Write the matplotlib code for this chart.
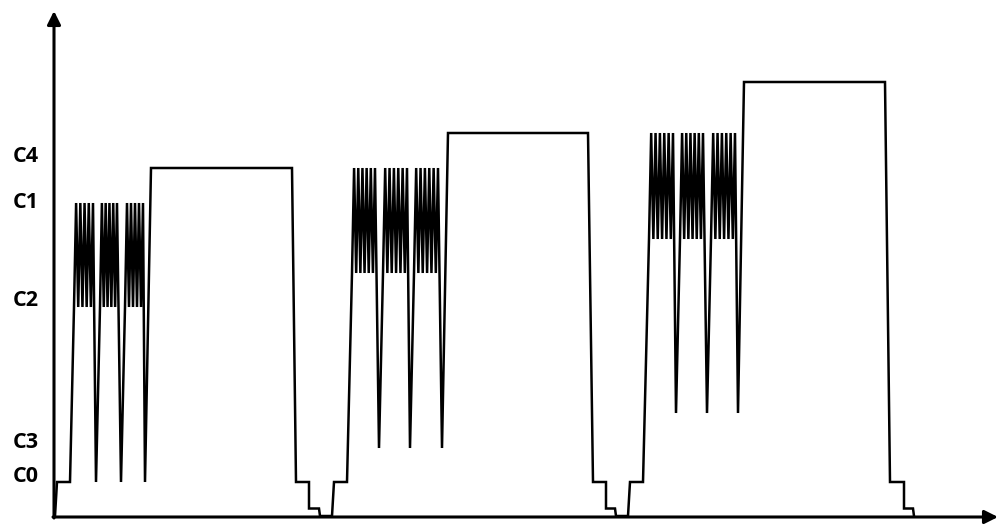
#schematic of three charge cycles: oscillation bursts followed by a plateau
import numpy as np
import matplotlib.pyplot as plt

# levels (height above x axis) for each cycle
base_level = 34.0
step_level = 7.5
osc_low = [209, 243, 277]
osc_high = [313, 348, 383]
dip_level = [34, 68, 103]
plateau_level = [348, 383, 434]

# time breakpoints for each cycle
cycle_start = [55, 332, 628]
rise_start = [70, 347, 643]
burst_start = [[74, 100, 125], [352, 383, 414], [649, 680, 711]]
burst_end = [[93, 117, 143], [375, 407, 438], [673, 703, 735]]
dip_time = [[96, 121, 145], [379, 410, 442], [676, 707, 738]]
plateau_start = [151, 448, 744]
plateau_end = [292, 588, 885]
fall_end = [296, 593, 890]
step_end = [309, 606, 904]
tail_end = [319, 615, 913]
teeth = [5, 6, 6]

# y axis labels
label_names = ['C4', 'C1', 'C2', 'C3', 'C0']
label_levels = [359, 313, 216, 74, 40]

xs, ys = [], []
for i in range(3):
    xs += [cycle_start[i], cycle_start[i] + 2, rise_start[i]]
    ys += [0, base_level, base_level]
    for b in range(3):
        n = teeth[i]
        tx = np.linspace(burst_start[i][b], burst_end[i][b], 2 * n)
        for k, x in enumerate(tx):
            xs.append(x)
            ys.append(osc_low[i] if k % 2 == 0 else osc_high[i])
        xs.append(dip_time[i][b])
        ys.append(dip_level[i])
    xs += [plateau_start[i], plateau_end[i], fall_end[i], step_end[i],
           step_end[i], tail_end[i], tail_end[i] + 1]
    ys += [plateau_level[i], plateau_level[i], base_level, base_level,
           step_level, step_level, 0]

fig = plt.figure(figsize=(10.04, 5.32), dpi=100)
ax = fig.add_axes([0, 0, 1, 1])
ax.set_xlim(0, 1004)
ax.set_ylim(-16, 516)
ax.axis('off')

ax.plot(xs, ys, color='black', linewidth=1.8, solid_joinstyle='miter')

# axes with arrows
ax.annotate('', xy=(998, -1), xytext=(53, -1),
            arrowprops=dict(arrowstyle='-|>', color='black', lw=2.2,
                            mutation_scale=20, shrinkA=0, shrinkB=0))
ax.annotate('', xy=(54, 505), xytext=(54, -2),
            arrowprops=dict(arrowstyle='-|>', color='black', lw=2.2,
                            mutation_scale=20, shrinkA=0, shrinkB=0))

for name, lev in zip(label_names, label_levels):
    ax.text(26, lev, name, ha='center', va='center', fontsize=15.5,
            fontweight='bold', family=['Open Sans', 'DejaVu Sans'])

fig.savefig('out.png', dpi=100)
